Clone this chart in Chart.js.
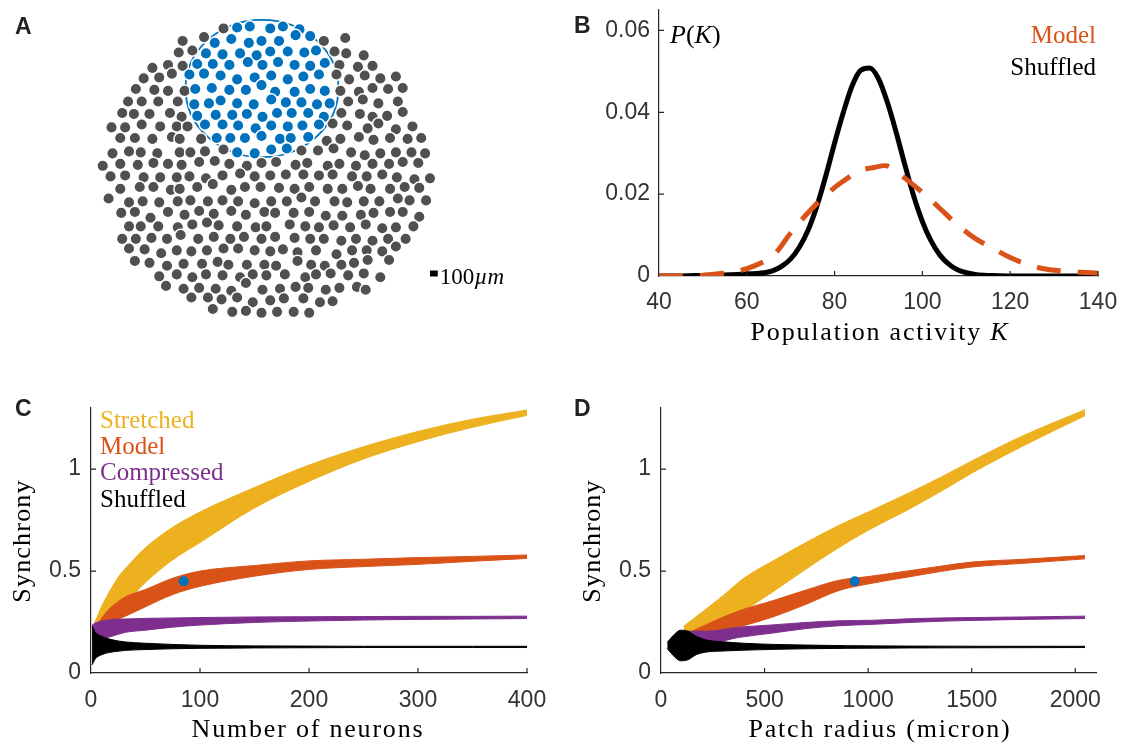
<!DOCTYPE html>
<html>
<head>
<meta charset="utf-8">
<title>Population synchrony</title>
<script src="https://cdn.jsdelivr.net/npm/chart.js@4.4.1/dist/chart.umd.min.js"></script>
<style>
  html, body { margin: 0; padding: 0; background: #fff; }
  #figure { position: relative; width: 1132px; height: 744px; overflow: hidden; }
  #figure canvas { position: absolute; }
</style>
</head>
<body>
<div id="figure">
  <canvas id="panelA" width="560" height="372" style="left:0;top:0"></canvas>
  <canvas id="panelB" width="572" height="372" style="left:560px;top:0"></canvas>
  <canvas id="panelC" width="560" height="372" style="left:0;top:372px"></canvas>
  <canvas id="panelD" width="572" height="372" style="left:560px;top:372px"></canvas>
</div>
<script>
// ---- A: cell positions in the recorded field (field units, y down) ----
const grayCells = [
  [222,22],[180,35],[202,31],[176,47],[190,45],[149,63],[165,60],[180,61],[169,69],[140,74],[156,73],
  [132,85],[151,86],[165,87],[182,87],[124,98],[138,98],[155,98],[175,98],[118,110],[130,111],[146,111],[167,110],[179,114],
  [107,125],[121,125],[138,122],[157,124],[174,124],[185,124],[116,136],[131,136],[149,137],[169,135],[177,137],[199,137],
  [108,152],[125,150],[137,151],[154,152],[177,151],[188,151],[203,150],[222,148],
  [98,165],[116,163],[134,164],[150,162],[165,163],[179,164],[197,161],[213,160],[228,163],[246,165],[261,162],
  [325,35],[347,32],[336,46],[348,48],[366,50],[341,60],[360,62],[375,61],[338,70],[351,75],[367,71],[383,74],[399,72],
  [342,87],[361,88],[375,84],[391,85],[406,84],[350,98],[365,96],[381,100],[401,98],
  [343,110],[362,111],[375,114],[390,113],[406,109],[334,121],[349,123],[370,126],[381,121],[399,127],[416,124],
  [328,139],[342,137],[361,135],[376,138],[393,136],[411,137],[425,136],
  [302,149],[319,149],[335,147],[353,151],[367,154],[383,152],[399,151],[415,151],[429,152],
  [276,161],[296,164],[308,162],[329,165],[341,163],[358,165],[375,163],[392,163],[406,161],[422,162],
  [106,176],[121,175],[140,177],[157,177],[174,177],[187,176],[204,178],[221,175],[239,173],[254,176],
  [116,189],[136,187],[150,187],[168,190],[177,189],[195,187],[211,184],[230,190],[244,187],[260,187],
  [104,199],[125,203],[139,202],[156,203],[175,202],[188,201],[206,202],[221,201],[237,202],[254,204],
  [117,214],[131,213],[147,219],[165,213],[182,216],[197,212],[212,215],[230,212],[245,216],[264,213],
  [125,228],[137,228],[155,228],[175,229],[190,226],[205,224],[217,227],[236,228],[255,229],
  [118,241],[132,241],[148,240],[164,241],[178,237],[196,241],[212,239],[229,241],[243,239],[261,241],
  [125,251],[141,252],[158,256],[174,253],[189,254],[205,253],[222,251],[237,251],[254,253],
  [131,264],[146,266],[164,269],[181,267],[200,267],[216,265],[227,268],[246,268],[264,268],
  [156,280],[174,278],[190,281],[204,278],[221,279],[239,281],[252,278],[245,287],
  [163,290],[181,293],[197,292],[214,293],[230,295],[262,294],
  [189,302],[206,302],[220,304],[236,302],[252,307],
  [211,314],[231,317],[245,316],[261,318],
  [270,175],[286,174],[304,174],[320,175],[334,174],[354,176],[369,176],[385,174],[400,177],[418,179],[434,178],
  [279,188],[295,189],[310,187],[329,189],[344,189],[360,186],[373,189],[393,189],[408,187],[423,188],
  [271,202],[287,202],[302,198],[316,202],[336,202],[349,203],[366,202],[382,202],[401,199],[413,201],[430,201],
  [275,214],[294,214],[310,213],[327,217],[344,217],[363,216],[376,214],[393,213],[406,213],[423,218],
  [266,228],[290,226],[306,228],[320,229],[335,227],[352,229],[368,226],[385,230],[399,229],[417,228],
  [275,239],[295,240],[311,241],[325,241],[343,243],[358,241],[375,243],[391,241],[409,241],
  [270,254],[283,252],[298,255],[317,253],[338,257],[354,253],[369,253],[385,254],[399,249],
  [298,264],[276,269],[312,268],[326,269],[343,268],[356,266],[370,263],[392,263],
  [266,279],[285,278],[306,281],[317,278],[332,277],[350,279],[366,277],[383,281],
  [280,293],[296,291],[309,292],[327,294],[341,292],[359,291],[368,294],
  [270,305],[284,303],[304,303],[321,307],[334,306],
  [277,317],[294,317],[310,318]
];
const patchCells = [
  [236,21],[249,20],[213,37],[230,33],[248,37],[261,35],[204,48],[221,49],[239,48],[256,50],
  [195,59],[211,59],[228,60],[247,57],[262,60],[187,70],[202,69],[219,71],[236,75],[254,73],
  [193,85],[210,84],[228,86],[245,86],[261,81],[192,101],[207,100],[219,97],[236,100],[253,101],
  [195,113],[214,112],[231,112],[246,111],[262,114],[203,122],[221,122],[237,123],[255,126],
  [215,136],[229,136],[244,136],[261,134],[236,151],[254,152],
  [270,22],[283,20],[300,23],[296,29],[311,30],[279,35],[270,46],[288,46],[305,47],[317,45],
  [278,57],[295,60],[311,61],[326,58],[271,71],[288,75],[304,72],[320,70],
  [275,88],[295,88],[311,85],[326,87],[271,96],[286,99],[302,99],[318,101],[331,100],
  [277,110],[292,110],[309,110],[325,114],[271,123],[288,124],[303,123],[320,122],
  [280,137],[291,136],[309,135],[271,148],[287,147]
];
const patchCenter = [261.5, 84.5];
const patchRadius = [78.5, 71.5];   // field units along x and y
const scaleBarX = [434, 442];
const scaleBarY = [277, 277];

// ---- B: distribution of population activity ----
const pTicksX = [40, 60, 80, 100, 120, 140];
const pTicksY = [0, 0.02, 0.04, 0.06];
const shuffledK = [40, 44, 48, 52, 56, 60, 62, 64, 66, 68, 70, 72, 74, 76, 78, 80, 82, 84, 86, 88, 90, 92, 94, 96, 98, 100, 102, 104, 106, 108, 110, 112, 114, 116, 120, 130, 140];
const shuffledP = [0, 0, 0.0001, 0.0002, 0.0003, 0.0005, 0.0006, 0.0008, 0.0013, 0.0024, 0.0042, 0.0071, 0.0113, 0.0172, 0.0245, 0.0325, 0.0400, 0.0465, 0.0503, 0.0508, 0.0482, 0.0425, 0.0352, 0.0272, 0.0196, 0.0133, 0.0085, 0.0051, 0.0029, 0.0015, 0.0008, 0.0004, 0.0002, 0.0001, 0, 0, 0];
const modelK = [40, 46, 50, 54, 58, 62, 66, 70, 74, 78, 82, 86, 89, 92, 95, 98, 101, 104, 108, 112, 116, 120, 124, 128, 132, 136, 140];
const modelP = [0, 0, 0.0002, 0.0006, 0.0012, 0.0026, 0.005, 0.0105, 0.0155, 0.0198, 0.0232, 0.0258, 0.0265, 0.0269, 0.0247, 0.0222, 0.0195, 0.0165, 0.0125, 0.0092, 0.0068, 0.0045, 0.0028, 0.0017, 0.0012, 0.0009, 0.0007];

// ---- C: synchrony vs number of neurons (spread of samples, upper/lower) ----
const syncTicks = [0, 0.5, 1];
const neuronTicks = [0, 100, 200, 300, 400];
const nNeurons = [1, 4, 10, 16, 25, 32, 50, 75, 100, 150, 200, 250, 300, 350, 400];
const cStretchedHi = [0.22, 0.255, 0.33, 0.39, 0.47, 0.515, 0.615, 0.715, 0.79, 0.91, 1.02, 1.11, 1.185, 1.245, 1.29];
const cStretchedLo = [0.19, 0.205, 0.24, 0.27, 0.31, 0.345, 0.445, 0.555, 0.64, 0.81, 0.94, 1.05, 1.135, 1.205, 1.264];
const cModelHi = [0.215, 0.225, 0.27, 0.31, 0.35, 0.375, 0.41, 0.465, 0.5, 0.527, 0.55, 0.558, 0.566, 0.572, 0.579];
const cModelLo = [0.19, 0.2, 0.225, 0.245, 0.265, 0.28, 0.325, 0.385, 0.425, 0.475, 0.508, 0.522, 0.533, 0.548, 0.562];
const cCompressedHi = [0.235, 0.245, 0.255, 0.26, 0.265, 0.265, 0.268, 0.27, 0.272, 0.275, 0.276, 0.277, 0.278, 0.278, 0.279];
const cCompressedLo = [0.17, 0.16, 0.165, 0.175, 0.19, 0.2, 0.21, 0.225, 0.235, 0.248, 0.255, 0.26, 0.263, 0.265, 0.267];
const cShuffledHi = [0.23, 0.2, 0.18, 0.168, 0.157, 0.152, 0.146, 0.14, 0.136, 0.133, 0.132, 0.131, 0.131, 0.131, 0.131];
const cShuffledLo = [0.04, 0.07, 0.09, 0.1, 0.107, 0.111, 0.115, 0.119, 0.121, 0.123, 0.124, 0.125, 0.125, 0.125, 0.125];
const cRecorded = [85, 0.45];

// ---- D: synchrony vs patch radius (micron) ----
const radiusTicks = [0, 500, 1000, 1500, 2000];
const dStretchedR = [110, 200, 300, 400, 550, 700, 850, 1000, 1200, 1350, 1500, 1750, 2047];
const dStretchedHi = [0.23, 0.30, 0.38, 0.465, 0.555, 0.64, 0.72, 0.79, 0.885, 0.96, 1.04, 1.165, 1.292];
const dStretchedLo = [0.19, 0.20, 0.24, 0.305, 0.405, 0.51, 0.61, 0.70, 0.805, 0.89, 0.98, 1.115, 1.262];
const dModelR = [140, 220, 380, 540, 700, 860, 1000, 1200, 1350, 1500, 1750, 2047];
const dModelHi = [0.20, 0.238, 0.306, 0.355, 0.407, 0.455, 0.473, 0.502, 0.524, 0.544, 0.558, 0.576];
const dModelLo = [0.16, 0.178, 0.226, 0.275, 0.337, 0.405, 0.437, 0.472, 0.498, 0.52, 0.538, 0.56];
const dCompressedR = [100, 220, 380, 540, 700, 860, 1030, 1200, 1350, 1500, 1750, 2047];
const dCompressedHi = [0.205, 0.205, 0.225, 0.236, 0.248, 0.256, 0.259, 0.266, 0.27, 0.272, 0.275, 0.279];
const dCompressedLo = [0.155, 0.145, 0.175, 0.196, 0.218, 0.232, 0.239, 0.248, 0.254, 0.258, 0.263, 0.267];
const dShuffledR = [30, 60, 95, 130, 170, 220, 300, 400, 550, 700, 900, 1200, 1600, 2047];
const dShuffledHi = [0.15, 0.185, 0.21, 0.205, 0.18, 0.162, 0.153, 0.146, 0.14, 0.137, 0.134, 0.132, 0.131, 0.131];
const dShuffledLo = [0.12, 0.085, 0.06, 0.065, 0.09, 0.103, 0.108, 0.112, 0.116, 0.119, 0.121, 0.123, 0.124, 0.125];
const dRecorded = [935, 0.45];

// MATLAB-ish palette
const GOLD = '#EDB120', ORANGE = '#D95319', PURPLE = '#7E2F8E', BLUE = '#0072BD', GRAY = '#505050';
const AXIS = '#262626';
const SANS = '"Liberation Sans", Arial, sans-serif';
const SERIF = '"Liberation Serif", "Times New Roman", serif';

Chart.defaults.font.family = SANS;
Chart.defaults.color = '#333';
Chart.defaults.animation = false;
Chart.defaults.plugins.legend.display = false;
Chart.defaults.plugins.tooltip.enabled = false;

// text with mixed upright / italic pieces
function drawText(ctx, parts, x, y, o) {
  parts = parts.map(p => typeof p === 'string' ? { text: p } : p);
  ctx.save();
  ctx.fillStyle = o.color || '#000';
  ctx.textAlign = 'left';
  ctx.textBaseline = 'alphabetic';
  ctx.letterSpacing = (o.spacing || 0) + 'px';
  const fonts = parts.map(p => (p.italic ? 'italic ' : '') + (o.bold ? 'bold ' : '') + o.size + 'px ' + (o.family || SERIF));
  const widths = parts.map((p, i) => { ctx.font = fonts[i]; return ctx.measureText(p.text).width; });
  const total = widths.reduce((a, b) => a + b, 0);
  if (o.rotate) { ctx.translate(x, y); ctx.rotate(o.rotate); x = 0; y = 0; }
  let cx = o.align === 'center' ? x - total / 2 : o.align === 'right' ? x - total : x;
  parts.forEach((p, i) => { ctx.font = fonts[i]; ctx.fillText(p.text, cx, y); cx += widths[i]; });
  ctx.restore();
}

function panelLetter(ctx, letter, x, y) {
  drawText(ctx, [letter], x, y, { size: 23, family: SANS, bold: true, color: '#222' });
}

const textLayer = draw => ({ id: 'textLayer', afterDraw: chart => draw(chart.ctx, chart) });

// MATLAB style ticks pointing into the axes
const innerTicks = {
  id: 'innerTicks',
  afterDatasetsDraw(chart) {
    const { ctx, chartArea: a, scales: { x, y } } = chart;
    ctx.save();
    ctx.strokeStyle = AXIS;
    ctx.lineWidth = 1.2;
    ctx.beginPath();
    x.ticks.forEach(t => {
      const px = x.getPixelForValue(t.value);
      if (px > a.left + 2) { ctx.moveTo(px, a.bottom); ctx.lineTo(px, a.bottom - 5); }
    });
    y.ticks.forEach(t => {
      const py = y.getPixelForValue(t.value);
      if (py < a.bottom - 2) { ctx.moveTo(a.left, py); ctx.lineTo(a.left + 5, py); }
    });
    ctx.stroke();
    ctx.restore();
  }
};

function axis(min, max, tickValues, pad, fit) {
  return {
    type: 'linear', min, max,
    grid: { display: false, drawTicks: false },
    border: { display: true, color: AXIS, width: 1.2 },
    ticks: { font: { size: 23 }, color: '#333', padding: pad, maxRotation: 0, autoSkip: false, callback: v => String(v) },
    afterBuildTicks: s => { s.ticks = tickValues.map(v => ({ value: v })); },
    afterFit: fit
  };
}
const xFit = h => s => { s.height = h; s.paddingLeft = 0; s.paddingRight = 0; };
const yFit = w => s => { s.width = w; s.paddingTop = 0; s.paddingBottom = 0; };

const pts = (xs, ys) => xs.map((x, i) => ({ x, y: ys[i] }));

// a cloud of samples drawn as the area between its upper and lower envelope
function band(xs, hi, lo, color, order) {
  const common = { borderColor: color, borderWidth: 1, pointRadius: 0, cubicInterpolationMode: 'monotone', order };
  return [
    { ...common, data: pts(xs, hi), fill: false },
    { ...common, data: pts(xs, lo), fill: '-1', backgroundColor: color }
  ];
}

// ---- A ----
new Chart(document.getElementById('panelA'), {
  type: 'scatter',
  data: {
    datasets: [
      { data: patchCells.map(([x, y]) => ({ x, y })), pointRadius: 5.8, pointBackgroundColor: BLUE, pointBorderColor: '#fff', pointBorderWidth: 1.5 },
      { data: grayCells.map(([x, y]) => ({ x, y })), pointRadius: 5.8, pointBackgroundColor: GRAY, pointBorderColor: '#fff', pointBorderWidth: 1.5 },
      { data: pts(scaleBarX, scaleBarY), showLine: true, borderColor: '#000', borderWidth: 6, pointRadius: 0, borderCapStyle: 'butt' }
    ]
  },
  options: {
    responsive: false,
    layout: { padding: 0 },
    scales: {
      x: { type: 'linear', min: 0, max: 560, display: false },
      y: { type: 'linear', min: 0, max: 372, reverse: true, display: false }
    }
  },
  plugins: [
    {
      id: 'patchOutline',
      beforeDatasetsDraw(chart) {
        const { ctx, scales: { x, y } } = chart;
        const cx = x.getPixelForValue(patchCenter[0]), cy = y.getPixelForValue(patchCenter[1]);
        const rx = Math.abs(x.getPixelForValue(patchCenter[0] + patchRadius[0]) - cx);
        const ry = Math.abs(y.getPixelForValue(patchCenter[1] + patchRadius[1]) - cy);
        ctx.save();
        ctx.strokeStyle = BLUE;
        ctx.lineWidth = 1.8;
        ctx.beginPath();
        ctx.ellipse(cx, cy, rx, ry, 0, 0, Math.PI * 2);
        ctx.stroke();
        ctx.restore();
      }
    },
    textLayer((ctx, chart) => {
      panelLetter(ctx, 'A', 15, 34);
      const x = chart.scales.x.getPixelForValue(scaleBarX[1]) + 2;
      drawText(ctx, ['100', { text: 'µm', italic: true }], x, 284, { size: 23 });
    })
  ]
});

// ---- B ----
new Chart(document.getElementById('panelB'), {
  type: 'line',
  data: {
    datasets: [
      { data: pts(modelK, modelP), borderColor: ORANGE, borderWidth: 5, borderDash: [24, 17], pointRadius: 0, tension: 0.35, order: 0 },
      { data: pts(shuffledK, shuffledP), borderColor: '#000', borderWidth: 5, pointRadius: 0, cubicInterpolationMode: 'monotone', order: 1 }
    ]
  },
  options: {
    responsive: false,
    layout: { padding: { left: 0, top: 10, right: 34, bottom: 0 } },
    scales: {
      x: axis(40, 140, pTicksX, 13, xFit(96)),
      y: axis(0, 0.065, pTicksY, 9, yFit(99))
    }
  },
  plugins: [innerTicks, textLayer(ctx => {
    panelLetter(ctx, 'B', 14, 33);
    drawText(ctx, [{ text: 'P', italic: true }, '(', { text: 'K', italic: true }, ')'], 110, 43, { size: 26 });
    drawText(ctx, ['Model'], 536, 43, { size: 25, align: 'right', color: ORANGE });
    drawText(ctx, ['Shuffled'], 536, 75, { size: 25, align: 'right' });
    drawText(ctx, ['Population activity ', { text: 'K', italic: true }], 320, 340, { size: 26, align: 'center', spacing: 1.8 });
  })]
});

// ---- C ----
new Chart(document.getElementById('panelC'), {
  type: 'line',
  data: {
    datasets: [
      ...band(nNeurons, cStretchedHi, cStretchedLo, GOLD, 4),
      ...band(nNeurons, cModelHi, cModelLo, ORANGE, 3),
      ...band(nNeurons, cCompressedHi, cCompressedLo, PURPLE, 2),
      ...band(nNeurons, cShuffledHi, cShuffledLo, '#000', 1),
      { data: [{ x: cRecorded[0], y: cRecorded[1] }], pointRadius: 5, pointBackgroundColor: BLUE, pointBorderWidth: 0, showLine: false, order: 0 }
    ]
  },
  options: {
    responsive: false,
    layout: { padding: { left: 0, top: 36, right: 33, bottom: 0 } },
    scales: {
      x: axis(0, 400, neuronTicks, 14, xFit(71)),
      y: axis(0, 1.3, syncTicks, 10, yFit(91))
    }
  },
  plugins: [innerTicks, textLayer(ctx => {
    panelLetter(ctx, 'C', 15, 44);
    drawText(ctx, ['Stretched'], 100, 56, { size: 25, color: GOLD });
    drawText(ctx, ['Model'], 100, 82, { size: 25, color: ORANGE });
    drawText(ctx, ['Compressed'], 100, 108, { size: 25, color: PURPLE });
    drawText(ctx, ['Shuffled'], 100, 135, { size: 25 });
    drawText(ctx, ['Synchrony'], 30, 169, { size: 26, align: 'center', spacing: 1.2, rotate: -Math.PI / 2 });
    drawText(ctx, ['Number of neurons'], 308, 365, { size: 26, align: 'center', spacing: 1.8 });
  })]
});

// ---- D ----
new Chart(document.getElementById('panelD'), {
  type: 'line',
  data: {
    datasets: [
      ...band(dStretchedR, dStretchedHi, dStretchedLo, GOLD, 4),
      ...band(dModelR, dModelHi, dModelLo, ORANGE, 3),
      ...band(dCompressedR, dCompressedHi, dCompressedLo, PURPLE, 2),
      ...band(dShuffledR, dShuffledHi, dShuffledLo, '#000', 1),
      { data: [{ x: dRecorded[0], y: dRecorded[1] }], pointRadius: 5, pointBackgroundColor: BLUE, pointBorderWidth: 0, showLine: false, order: 0 }
    ]
  },
  options: {
    responsive: false,
    layout: { padding: { left: 0, top: 36, right: 36, bottom: 0 } },
    scales: {
      x: axis(0, 2100, radiusTicks, 14, xFit(71)),
      y: axis(0, 1.3, syncTicks, 10, yFit(101))
    }
  },
  plugins: [innerTicks, textLayer(ctx => {
    panelLetter(ctx, 'D', 14, 44);
    drawText(ctx, ['Synchrony'], 40, 169, { size: 26, align: 'center', spacing: 1.2, rotate: -Math.PI / 2 });
    drawText(ctx, ['Patch radius (micron)'], 320, 365, { size: 26, align: 'center', spacing: 1.8 });
  })]
});
</script>
</body>
</html>
